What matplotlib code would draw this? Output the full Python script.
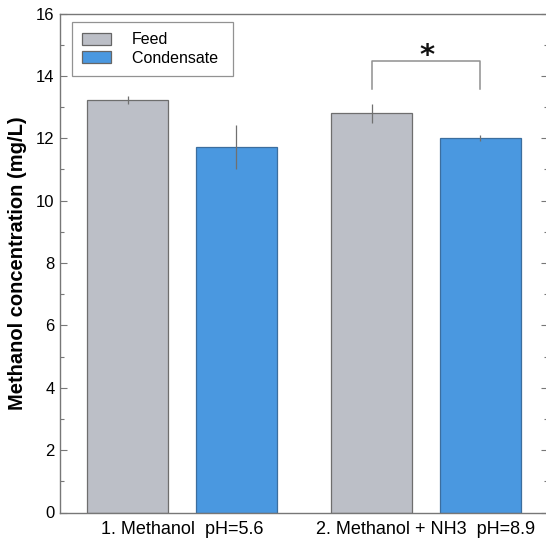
import matplotlib
matplotlib.use("Agg")
import matplotlib.pyplot as plt
import numpy as np

plt.rcParams['font.family'] = ['Liberation Sans', 'DejaVu Sans']

groups = ["1. Methanol  pH=5.6", "2. Methanol + NH3  pH=8.9"]
series = ["Feed", "Condensate"]
feed = [13.22, 12.80]
feed_err = [0.12, 0.30]
cond = [11.72, 12.02]
cond_err = [0.71, 0.10]
yticks = [0, 2, 4, 6, 8, 10, 12, 14, 16]

fig = plt.figure(figsize=(5.46, 5.40), dpi=100)
ax = fig.add_axes([60/546, 27.5/540, 488/546, 499/540])

x = np.arange(len(groups))
w = 0.334
off = 0.223
gray = "#BCBFC7"
blue = "#4A98E0"
ax.bar(x - off, feed, w, color=gray, edgecolor="#6E6E6E", linewidth=0.9, label=series[0], zorder=2)
ax.bar(x + off, cond, w, color=blue, edgecolor="#3C6E9E", linewidth=0.9, label=series[1] + " ", zorder=2)
ax.errorbar(x - off, feed, yerr=feed_err, fmt="none", ecolor="#707070", elinewidth=0.9, capsize=0, zorder=3)
ax.errorbar(x + off, cond, yerr=cond_err, fmt="none", ecolor="#707070", elinewidth=0.9, capsize=0, zorder=3)

# significance bracket
bx1, bx2 = x[1] - off, x[1] + off
ax.plot([bx1, bx1, bx2, bx2], [13.58, 14.48, 14.48, 13.58], color="#909090", lw=1.1, zorder=3)
ax.text((bx1 + bx2) / 2 + 0.005, 14.37, "*", ha="center", va="baseline", fontsize=21, fontweight="bold",
        color="#111111", family="DejaVu Sans")

ax.set_xlim(-0.5, 1.5)
ax.set_ylim(0, 16)
ax.set_yticks(yticks)
ax.set_yticks(np.arange(1, 16, 2), minor=True)
ax.set_xticks(x)
ax.set_xticklabels(groups, fontsize=13)
ax.tick_params(axis="x", length=0, pad=6)
ax.tick_params(axis="y", which="major", direction="in", length=5, width=0.8, color="#777777",
               labelsize=12, right=True, pad=4)
ax.tick_params(axis="y", which="minor", direction="in", length=3, width=0.8, color="#777777", right=True)
for s in ax.spines.values():
    s.set_color("#777777")
    s.set_linewidth(1.0)

ax.set_ylabel("Methanol concentration (mg/L)", fontsize=14.5, fontweight="bold", labelpad=6)

leg = ax.legend(loc="upper left", bbox_to_anchor=(0.0246, 0.983), fontsize=11.5, frameon=True, fancybox=False,
                edgecolor="#777777", handlelength=1.8, handleheight=0.75, borderpad=0.65, labelspacing=0.2,
                handletextpad=1.3, borderaxespad=0.0)
leg.get_frame().set_linewidth(0.9)
for h in leg.legend_handles:
    h.set_edgecolor("#666666")

fig.savefig("out.png", dpi=100)
